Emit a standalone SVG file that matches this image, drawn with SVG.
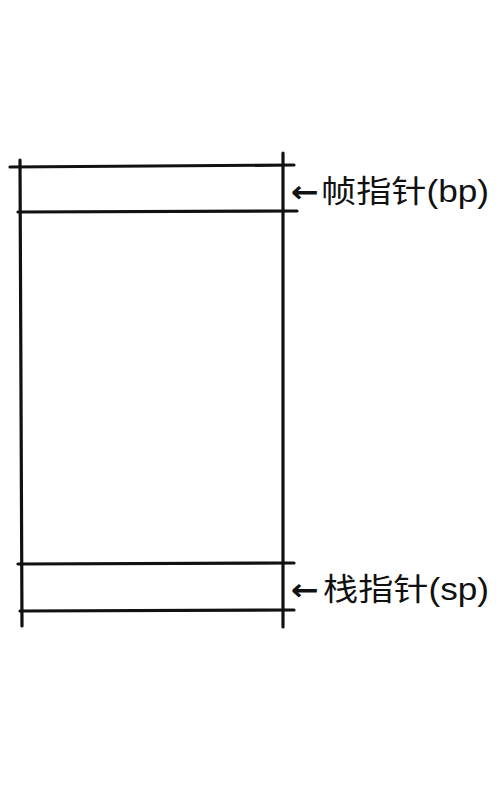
<svg xmlns="http://www.w3.org/2000/svg" width="500" height="800" viewBox="0 0 500 800">
<style>
.ln{stroke:#111;stroke-width:3.2;stroke-linecap:round;fill:none}
.lbl{font-family:"Liberation Sans","Noto Sans CJK SC",sans-serif;font-size:31px;fill:#111}
.arr{font-family:"DejaVu Sans",sans-serif;font-size:30px;fill:#111;font-weight:bold}
</style>
<rect width="500" height="800" fill="#fff"/>
<g id="stack">
<line class="ln" x1="20" y1="160" x2="22" y2="626"/>
<line class="ln" x1="283" y1="153" x2="283" y2="627"/>
<line class="ln" x1="10" y1="167" x2="294" y2="165"/>
<line class="ln" x1="18" y1="212" x2="297" y2="211"/>
<line class="ln" x1="18" y1="564" x2="294" y2="563"/>
<line class="ln" x1="20" y1="611" x2="294" y2="610"/>
</g>
<g id="bp-label">
<text class="lbl" x="291" y="202"><tspan class="arr" textLength="28" lengthAdjust="spacingAndGlyphs">←</tspan><tspan x="321" textLength="168" lengthAdjust="spacingAndGlyphs">帧指针(bp)</tspan></text>
</g>
<g id="sp-label">
<text class="lbl" x="291" y="600"><tspan class="arr" textLength="28" lengthAdjust="spacingAndGlyphs">←</tspan><tspan x="323" textLength="166" lengthAdjust="spacingAndGlyphs">栈指针(sp)</tspan></text>
</g>
</svg>
